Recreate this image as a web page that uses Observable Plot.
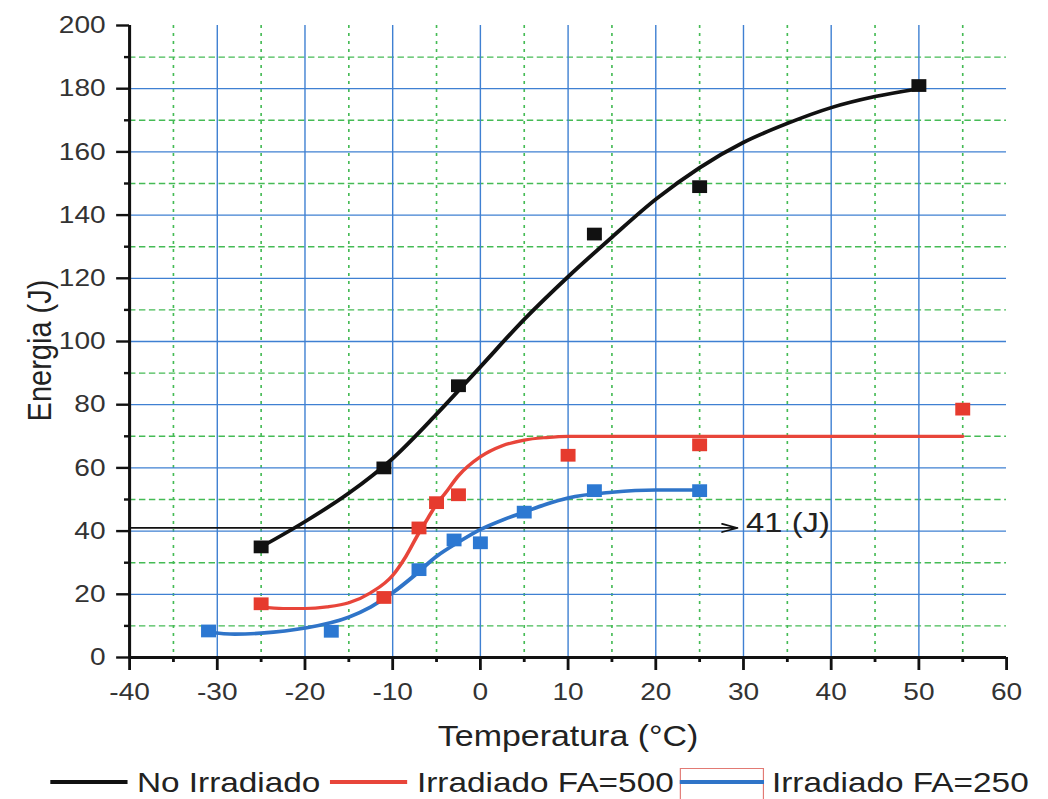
<!DOCTYPE html>
<html>
<head>
<meta charset="utf-8">
<script src="https://cdn.jsdelivr.net/npm/d3@7"></script>
<script src="https://cdn.jsdelivr.net/npm/@observablehq/plot@0.6"></script>
<style>
  html, body { margin: 0; padding: 0; background: #fff; overflow: hidden; }
  #wrap { width: 1048px; height: 799px; overflow: hidden; }
  .legend { position: relative; height: 39px; transform-origin: 0 0;
            font-family: "Liberation Sans", Arial, sans-serif; font-size: 28.5px; color: #222; overflow: hidden; }
  .legend .ln { position: absolute; top: 20.3px; height: 3.4px; }
  .legend .lt { position: absolute; top: 7.6px; line-height: 28.5px; white-space: nowrap; }
  .legend .box { position: absolute; top: 8px; height: 40px; border: 1.3px solid #e27a74; box-sizing: border-box; }
</style>
</head>
<body>
<div id="wrap"></div>
<script>
// ---------- data ----------
const xTicks = [-40, -30, -20, -10, 0, 10, 20, 30, 40, 50, 60];
const xMinor = [-35, -25, -15, -5, 5, 15, 25, 35, 45, 55];
const yTicks = [0, 20, 40, 60, 80, 100, 120, 140, 160, 180, 200];
const yMinor = [10, 30, 50, 70, 90, 110, 130, 150, 170, 190];
const xGridMajor = [-30, -20, -10, 0, 10, 20, 30, 40, 50];
const yGridMajor = [20, 40, 60, 80, 100, 120, 140, 160, 180];

const seriesNames = ["No Irradiado", "Irradiado FA=500", "Irradiado FA=250"];

// measured points (squares)
const noIrrX = [-25, -11, -2.5, 13, 25, 50];
const noIrrY = [35, 60, 86, 134, 149, 181];
const fa500X = [-25, -11, -7, -5, -2.5, 10, 25, 55];
const fa500Y = [17, 19, 41, 49, 51.5, 64, 67.3, 78.6];
const fa250X = [-31, -17, -7, -3, 0, 5, 13, 25];
const fa250Y = [8.4, 8.3, 27.8, 37.2, 36.3, 46, 52.8, 52.8];

// fitted curves
const noIrrCurveX = [-25, -20, -15, -10, -5, 0, 5, 10, 15, 20, 25, 30, 35, 40, 45, 50];
const noIrrCurveY = [35, 43, 52, 63, 77, 92, 107, 120.5, 133, 145, 155, 163, 169, 174, 177.5, 180];
const fa500CurveX = [-25, -22.5, -20, -17.5, -15, -12.5, -10, -8.5, -7, -6, -5, -4, -2.5, 0, 2.5, 5, 7.5, 10, 20, 30, 40, 55];
const fa500CurveY = [16, 15.5, 15.5, 16, 17.3, 20.5, 26, 32, 39.5, 44, 48.5, 52, 57.5, 63.5, 67, 68.8, 69.6, 70, 70, 70, 70, 70];
const fa250CurveX = [-31, -28, -25, -20, -15, -12.5, -10, -7.5, -5, -2.5, 0, 2.5, 5, 7.5, 10, 15, 20, 25];
const fa250CurveY = [8, 7.4, 7.7, 9.3, 12.8, 16, 20.5, 26, 32, 36.5, 40.5, 43.5, 46, 48.5, 50.5, 52.3, 53, 53];

// annotation
const arrowX = [-40, 29.3];
const arrowY = [41];
const annotX = [30.3];
const annotY = [42.5];
const annotText = ["41 (J)"];

const xTitle = ["Temperatura (°C)"];
const yTitle = ["Energia (J)"];

// ---------- style ----------
const S = 1.17;            // horizontal stretch of the original picture
const W = 1048 / S;
const H = 760;
const FONT = "'Liberation Sans', Arial, sans-serif";
const cBlack = "#111111", cRed = "#e8453a", cBlue = "#2f74c8";
const gridBlue = "#3f80d2", gridGreen = "#45bb55";

const svg = Plot.plot({
  width: W,
  height: H,
  marginLeft: 129 / S,
  marginRight: (1048 - 1006) / S,
  marginTop: 25,
  marginBottom: H - 657,
  style: { fontFamily: FONT, background: "#fff", overflow: "visible" },
  x: { domain: [-40, 60], label: null },
  y: { domain: [0, 200], label: null },
  marks: [
    Plot.ruleX(xMinor, { stroke: gridGreen, strokeWidth: 1.4, strokeDasharray: "3,5" }),
    Plot.ruleY(yMinor, { stroke: gridGreen, strokeWidth: 1.4, strokeDasharray: "5.5,3" }),
    Plot.ruleX(xGridMajor, { stroke: gridBlue, strokeWidth: 1.2 }),
    Plot.ruleY(yGridMajor, { stroke: gridBlue, strokeWidth: 1.3 }),
    Plot.axisX(xTicks, { tickSize: 13, tickPadding: 12, tickFormat: d => String(d), fontSize: 24,
      stroke: cBlack, strokeWidth: 2.4, fill: "#333", label: null }),
    Plot.axisX(xMinor, { tickSize: 5, stroke: cBlack, strokeWidth: 2.4, fill: "none", label: null }),
    Plot.axisY(yTicks, { tickSize: 11, tickPadding: 9.5, tickFormat: d => String(d), fontSize: 24,
      stroke: cBlack, strokeWidth: 2.4, fill: "#333", label: null }),
    Plot.axisY(yMinor, { tickSize: 4.3, stroke: cBlack, strokeWidth: 2.4, fill: "none", label: null }),
    Plot.ruleX([xTicks[0]], { stroke: cBlack, strokeWidth: 2.6 }),
    Plot.ruleY([yTicks[0]], { stroke: cBlack, strokeWidth: 3 }),
    Plot.arrow(arrowY, { x1: arrowX[0], x2: arrowX[1], y1: d => d, y2: d => d,
      stroke: cBlack, strokeWidth: 1.7, headLength: 12, headAngle: 35 }),
    Plot.text(annotText, { x: annotX, y: annotY, text: d => d, textAnchor: "start",
      lineAnchor: "middle", fontSize: 28, fill: "#222" }),
    Plot.line(noIrrCurveX, { x: noIrrCurveX, y: noIrrCurveY, curve: "monotone-x", stroke: cBlack, strokeWidth: 3.6 }),
    Plot.line(fa500CurveX, { x: fa500CurveX, y: fa500CurveY, curve: "monotone-x", stroke: cRed, strokeWidth: 3.2 }),
    Plot.line(fa250CurveX, { x: fa250CurveX, y: fa250CurveY, curve: "monotone-x", stroke: cBlue, strokeWidth: 3.6 }),
    Plot.dot(noIrrX, { x: noIrrX, y: noIrrY, symbol: "square", r: 7.2, fill: cBlack, stroke: "none" }),
    Plot.dot(fa500X, { x: fa500X, y: fa500Y, symbol: "square", r: 7.2, fill: "#e63b2e", stroke: "none" }),
    Plot.dot(fa250X, { x: fa250X, y: fa250Y, symbol: "square", r: 7.2, fill: "#2c78d2", stroke: "none" }),
    Plot.text(xTitle, { text: d => d, frameAnchor: "bottom", lineAnchor: "top", dy: 68, fontSize: 29, fill: "#222" }),
    Plot.text(yTitle, { text: d => d, frameAnchor: "left", rotate: -90, textAnchor: "middle", lineAnchor: "middle",
      dx: 34 - 129 / S, dy: 9, fontSize: 29, fill: "#222" })
  ]
});
svg.setAttribute("preserveAspectRatio", "none");
svg.setAttribute("width", 1048);
svg.style.width = "1048px";
svg.style.height = H + "px";
svg.style.maxWidth = "none";
svg.style.display = "block";

const wrap = document.getElementById("wrap");
wrap.appendChild(svg);

// ---------- legend (HTML, below the SVG) ----------
const legend = document.createElement("div");
legend.className = "legend";
legend.style.width = W + "px";
legend.style.transform = `scaleX(${S})`;
const legendItems = [
  { name: seriesNames[0], color: cBlack, lineLeft: 42.7, lineW: 66.7, textLeft: 117 },
  { name: seriesNames[1], color: cRed, lineLeft: 282, lineW: 66, textLeft: 356.4 },
  { name: seriesNames[2], color: cBlue, lineLeft: 581, lineW: 71.5, textLeft: 659.8, box: true }
];
for (const it of legendItems) {
  if (it.box) {
    const b = document.createElement("div");
    b.className = "box";
    b.style.left = it.lineLeft + "px";
    b.style.width = it.lineW + "px";
    legend.appendChild(b);
  }
  const l = document.createElement("div");
  l.className = "ln";
  l.style.left = it.lineLeft + "px";
  l.style.width = it.lineW + "px";
  l.style.background = it.color;
  legend.appendChild(l);
  const t = document.createElement("span");
  t.className = "lt";
  t.style.left = it.textLeft + "px";
  t.textContent = it.name;
  legend.appendChild(t);
}
wrap.appendChild(legend);
</script>
</body>
</html>
